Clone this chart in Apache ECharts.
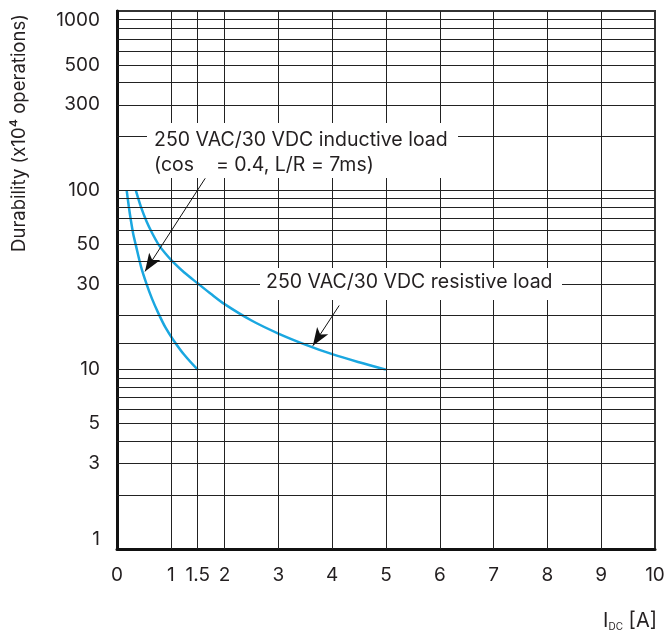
<!DOCTYPE html>
<html>
<head>
<meta charset="utf-8">
<script src="https://cdn.jsdelivr.net/npm/echarts@6/dist/echarts.min.js"></script>
<style>
html,body{margin:0;padding:0;background:#fff;}
#chart{width:670px;height:637px;}
</style>
</head>
<body>
<div id="chart"></div>
<script>
// ---- data ----
const xTickLabels = [0, 1, 1.5, 2, 3, 4, 5, 6, 7, 8, 9, 10];
const yTickLabels = [1, 3, 5, 10, 30, 50, 100, 300, 500, 1000];
const xGridValues = [1, 1.5, 2, 3, 4, 5, 6, 7, 8, 9];
const yGridValues = [2, 3, 4, 5, 6, 7, 8, 9, 10, 14, 20, 30, 40, 50, 60, 70, 80, 90,
                     100, 200, 300, 400, 500, 600, 700, 800, 900];
const inductiveCurrent = [0.18, 0.22, 0.26, 0.30, 0.35, 0.45, 0.55, 0.65, 0.77, 0.90, 1.05, 1.25, 1.5];
const inductiveLife    = [100, 81, 67.5, 57.5, 49.5, 37.2, 30, 24.9, 20.6, 17.2, 14.6, 12.1, 10];
const resistiveCurrent = [0.35, 0.45, 0.55, 0.65, 0.77, 0.90, 1.05, 1.25, 1.5, 1.75, 2.0, 2.5, 3.0, 3.5, 4.0, 4.5, 5.0];
const resistiveLife    = [100, 80, 67, 58, 50, 44.4, 39.6, 34.8, 30.3, 26.4, 23.2, 18.8, 15.9, 13.8, 12.2, 11.0, 10];
const inductiveLabel = ['250 VAC/30 VDC inductive load', '(cos    = 0.4, L/R = 7ms)'];
const resistiveLabel = '250 VAC/30 VDC resistive load';
const inductiveArrow = [[1.64, 116.7], [0.52, 35.3]];
const resistiveArrow = [[4.13, 22.8], [3.64, 13.6]];
const yAxisName = 'Durability (x10\u2074 operations)';

const FONT = 'Inter, "Noto Sans", sans-serif';
const TXT = '#231f20';
const CURVE = '#1aa7e0';

const chart = echarts.init(document.getElementById('chart'), null, {renderer: 'canvas'});

const zip = (xs, ys) => xs.map((x, i) => [x, ys[i]]);

const option = {
  animation: false,
  backgroundColor: '#fff',
  grid: {left: 117, right: 15, top: 11, bottom: 88, show: true, borderColor: '#333', borderWidth: 2, backgroundColor: 'transparent'},
  xAxis: {
    type: 'value', min: 0, max: 10, interval: 1,
    axisLine: {show: true, onZero: false, lineStyle: {color: '#111', width: 3}},
    axisTick: {show: false},
    splitLine: {show: false},
    axisLabel: {customValues: xTickLabels, color: TXT, fontFamily: FONT, fontSize: 19, margin: 17,
      formatter: v => String(v)}
  },
  yAxis: {
    type: 'log', logBase: 10, min: 1, max: 1000,
    axisLine: {show: true, onZero: false, lineStyle: {color: '#111', width: 3}},
    axisTick: {show: false},
    splitLine: {show: false},
    axisLabel: {customValues: yTickLabels, color: TXT, fontFamily: FONT, fontSize: 19, margin: 17,
      verticalAlignMinLabel: 'bottom', verticalAlignMaxLabel: 'top',
      formatter: v => String(Math.round(v))}
  },
  series: [
    {
      type: 'line', data: [], z: 1, silent: true,
      markLine: {
        silent: true, symbol: ['none', 'none'], animation: false,
        label: {show: false},
        lineStyle: {color: '#222', width: 1, type: 'solid'},
        emphasis: {disabled: true},
        data: yGridValues.map(v => ({yAxis: v})).concat(xGridValues.map(v => ({xAxis: v})))
      }
    },
    {
      name: 'inductive', type: 'line', smooth: 0.3, showSymbol: false, z: 3,
      lineStyle: {color: CURVE, width: 2.5},
      data: zip(inductiveCurrent, inductiveLife)
    },
    {
      name: 'resistive', type: 'line', smooth: 0.3, showSymbol: false, z: 3,
      lineStyle: {color: CURVE, width: 2.5},
      data: zip(resistiveCurrent, resistiveLife),
      markLine: {
        silent: true, symbol: ['none', 'arrow'], symbolSize: [10, 18], animation: false,
        label: {show: false},
        lineStyle: {color: '#111', width: 1, type: 'solid'},
        emphasis: {disabled: true},
        data: [
          [{coord: inductiveArrow[0]}, {coord: inductiveArrow[1]}],
          [{coord: resistiveArrow[0]}, {coord: resistiveArrow[1]}]
        ]
      }
    }
  ],
  graphic: [
    {type: 'rect', z: 10, shape: {x: 147, y: 123, width: 311, height: 55}, style: {fill: '#fff'}},
    {type: 'text', z: 11, left: 154, top: 128, style: {text: inductiveLabel.join('\n'), font: '19.5px ' + FONT, fill: TXT, lineHeight: 25}},
    {type: 'rect', z: 10, shape: {x: 260, y: 268, width: 302, height: 32}, style: {fill: '#fff'}},
    {type: 'text', z: 11, left: 266, top: 272, style: {text: resistiveLabel, font: '19.5px ' + FONT, fill: TXT}},
    {type: 'text', z: 11, x: 19, y: 133, rotation: Math.PI / 2,
      style: {text: yAxisName, font: '18.5px ' + FONT, fill: TXT, align: 'center', verticalAlign: 'middle'}},
    {type: 'text', z: 11, right: 13, top: 611,
      style: {text: '{a|I}{b|DC}{a| [A]}', fill: TXT,
        rich: {a: {fontFamily: FONT, fontSize: 20, fill: TXT}, b: {fontFamily: FONT, fontSize: 10, fill: TXT, padding: [11, 0, 0, 0]}}}}
  ]
};
chart.setOption(option);
</script>
</body>
</html>
